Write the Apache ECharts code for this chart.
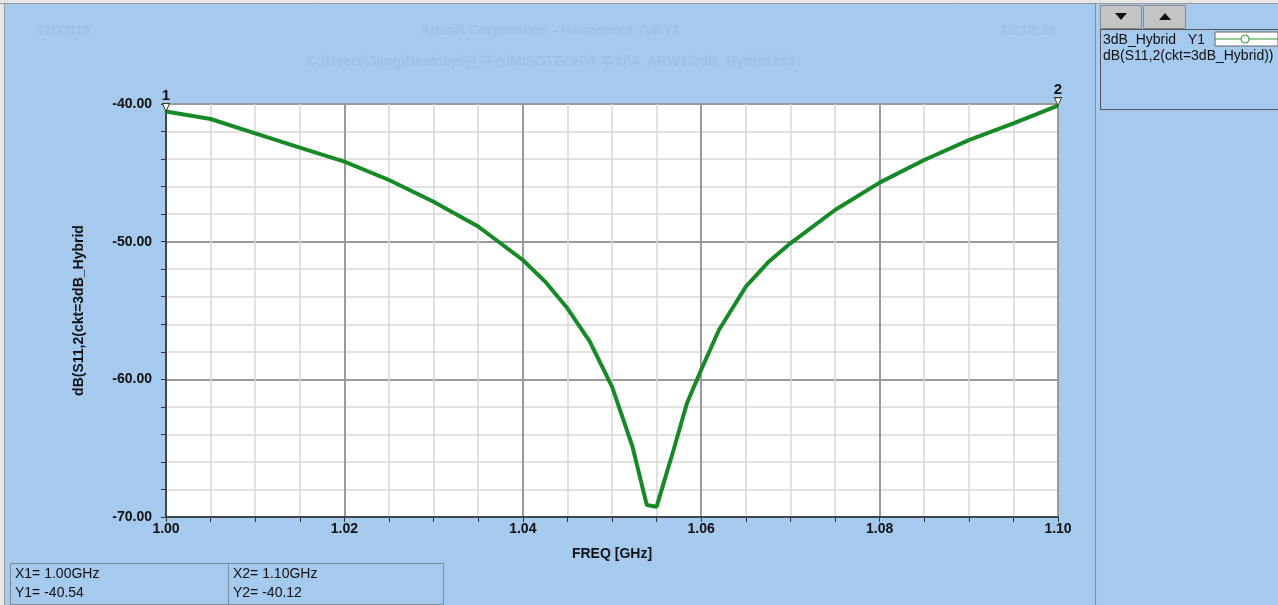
<!DOCTYPE html>
<html>
<head>
<meta charset="utf-8">
<script src="https://cdn.jsdelivr.net/npm/echarts@6/dist/echarts.min.js"></script>
<style>
html, body { margin: 0; padding: 0; background: #a6c9ee; }
#chart { width: 1278px; height: 605px; }
</style>
</head>
<body>
<div id="chart"></div>
<script>
"use strict";
// FREQ [GHz] and dB(S11,2)
const freqGHz = [1.000, 1.005, 1.010, 1.015, 1.020, 1.025, 1.030, 1.035, 1.040, 1.0425, 1.045, 1.0475, 1.050, 1.0523, 1.0539, 1.0550, 1.0569, 1.0584, 1.060, 1.062, 1.065, 1.0675, 1.070, 1.075, 1.080, 1.085, 1.090, 1.095, 1.100];
const s11dB = [-40.54, -41.09, -42.13, -43.17, -44.19, -45.52, -47.10, -48.90, -51.33, -52.90, -54.84, -57.25, -60.53, -64.89, -69.13, -69.25, -65.13, -61.74, -59.30, -56.40, -53.27, -51.50, -50.12, -47.70, -45.71, -44.07, -42.62, -41.40, -40.12];
const markerNames = ["1", "2"];
const markerX = [1.00, 1.10];
const markerY = [-40.54, -40.12];

const bg = "#a6c9ee";
const faint = "#9cc0e8";
const font = "'Liberation Sans', Arial, sans-serif";

const chart = echarts.init(document.getElementById("chart"), null, { renderer: "canvas" });

const txt = (x, y, text, extra) => ({
    type: "text", x, y, silent: true,
    style: Object.assign({ text, fill: "#111", font: `14px ${font}` }, extra || {}),
});
const box = (x, y, w, h, fill, stroke) => ({
    type: "rect", silent: true,
    shape: { x, y, width: w, height: h },
    style: { fill: fill || "none", stroke: stroke || null, lineWidth: 1 },
});

chart.setOption({
    backgroundColor: bg,
    animation: false,
    textStyle: { fontFamily: font },
    grid: {
        left: 166, top: 104, right: 220, bottom: 88,
        show: true, backgroundColor: "#fff", borderColor: "#1d2b3a", borderWidth: 1.5,
    },
    xAxis: {
        type: "value", min: 1.0, max: 1.1, interval: 0.02,
        name: "FREQ [GHz]", nameLocation: "middle", nameGap: 30,
        nameTextStyle: { fontWeight: "bold", fontSize: 14, color: "#111" },
        axisLine: { show: true, lineStyle: { color: "#1d2b3a", width: 1.5 } },
        axisTick: { show: true, length: 5, lineStyle: { color: "#333" } },
        minorTick: { show: true, splitNumber: 4, length: 5, lineStyle: { color: "#333" } },
        axisLabel: { fontWeight: "bold", fontSize: 14, color: "#111", margin: 5, formatter: (v) => v.toFixed(2) },
        splitLine: { show: true, lineStyle: { color: "#9a9a9a", width: 2 } },
        minorSplitLine: { show: true, lineStyle: { color: "#d8d8d8", width: 1.5 } },
    },
    yAxis: {
        type: "value", min: -70, max: -40, interval: 10,
        name: "dB(S11,2(ckt=3dB_Hybrid", nameLocation: "middle", nameGap: 80, nameRotate: 90,
        nameTextStyle: { fontWeight: "bold", fontSize: 14, color: "#111" },
        axisLine: { show: true, lineStyle: { color: "#1d2b3a", width: 1.5 } },
        axisTick: { show: true, length: 5, lineStyle: { color: "#333" } },
        minorTick: { show: true, splitNumber: 5, length: 5, lineStyle: { color: "#333" } },
        axisLabel: { fontWeight: "bold", fontSize: 14, color: "#111", margin: 14, formatter: (v) => v.toFixed(2) },
        splitLine: { show: true, lineStyle: { color: "#9a9a9a", width: 2 } },
        minorSplitLine: { show: true, lineStyle: { color: "#d8d8d8", width: 1.5 } },
    },
    series: [{
        name: "dB(S11,2(ckt=3dB_Hybrid))",
        type: "line",
        showSymbol: false,
        lineStyle: { color: "#178a27", width: 4 },
        data: freqGHz.map((f, i) => [f, s11dB[i]]),
        markPoint: {
            symbol: "triangle",
            symbolSize: [7, 8],
            symbolRotate: 180,
            symbolOffset: [0, -4],
            itemStyle: { color: "#fff", borderColor: "#3a3a20", borderWidth: 1 },
            label: { show: true, position: "top", distance: 0, color: "#111", fontSize: 15, fontWeight: "bold", formatter: (p) => p.name },
            data: markerNames.map((n, i) => ({ name: n, coord: [markerX[i], markerY[i]] })),
        },
    }],
    graphic: [
        // window frame
        box(0, 0, 1278, 3, "#e6e6e6"),
        box(0, 0, 4, 605, "#e6e6e6"),
        { type: "line", silent: true, shape: { x1: 0, y1: 3.5, x2: 1278, y2: 3.5 }, style: { stroke: "#9a9a9a", lineWidth: 1 } },
        { type: "line", silent: true, shape: { x1: 4.5, y1: 3, x2: 4.5, y2: 605 }, style: { stroke: "#9a9a9a", lineWidth: 1 } },
        { type: "line", silent: true, shape: { x1: 1095.5, y1: 3, x2: 1095.5, y2: 605 }, style: { stroke: "#8a8a8a", lineWidth: 1 } },
        { type: "line", silent: true, shape: { x1: 1097.5, y1: 3, x2: 1097.5, y2: 605 }, style: { stroke: "#c8c8c8", lineWidth: 1 } },
        // faint header texts
        txt(36, 24, "02/13/19", { fill: faint, font: `bold 14px ${font}` }),
        txt(420, 24, "Ansoft Corporation - Harmonica 7v8.71", { fill: faint, font: `bold 14px ${font}` }),
        txt(1000, 24, "15:18:36", { fill: faint, font: `bold 14px ${font}` }),
        txt(307, 55, "C:\\Users\\Jang\\Desktop\\연구소\\MISOTECH\\4 주차\\4_ARW1\\3dB_Hybrid.ckt", { fill: faint, font: `bold 14px ${font}` }),
        // scroll buttons
        box(1100.5, 5.5, 41, 23, "#c4c4c4", "#8a8a8a"),
        box(1143.5, 5.5, 42, 23, "#c4c4c4", "#8a8a8a"),
        { type: "polygon", silent: true, shape: { points: [[1115, 13], [1127, 13], [1121, 20]] }, style: { fill: "#111" } },
        { type: "polygon", silent: true, shape: { points: [[1159, 20], [1171, 20], [1165, 13]] }, style: { fill: "#111" } },
        // legend panel
        box(1100.5, 29.5, 178, 80, null, "#555"),
        box(1215, 32, 63, 14, "#fff", "#666"),
        { type: "line", silent: true, shape: { x1: 1215, y1: 39, x2: 1278, y2: 39 }, style: { stroke: "#2e9a3a", lineWidth: 1 } },
        { type: "circle", silent: true, shape: { cx: 1245, cy: 39, r: 4 }, style: { fill: "#fff", stroke: "#2e9a3a", lineWidth: 1 } },
        txt(1103, 33, "3dB_Hybrid   Y1"),
        txt(1103, 49, "dB(S11,2(ckt=3dB_Hybrid))"),
        // marker readout table
        box(10.5, 563.5, 218, 41, null, "#7d8a99"),
        box(228.5, 563.5, 215, 41, null, "#7d8a99"),
        txt(15, 567, "X1= 1.00GHz"),
        txt(15, 586, "Y1= -40.54"),
        txt(233, 567, "X2= 1.10GHz"),
        txt(233, 586, "Y2= -40.12"),
    ],
});
</script>
</body>
</html>
